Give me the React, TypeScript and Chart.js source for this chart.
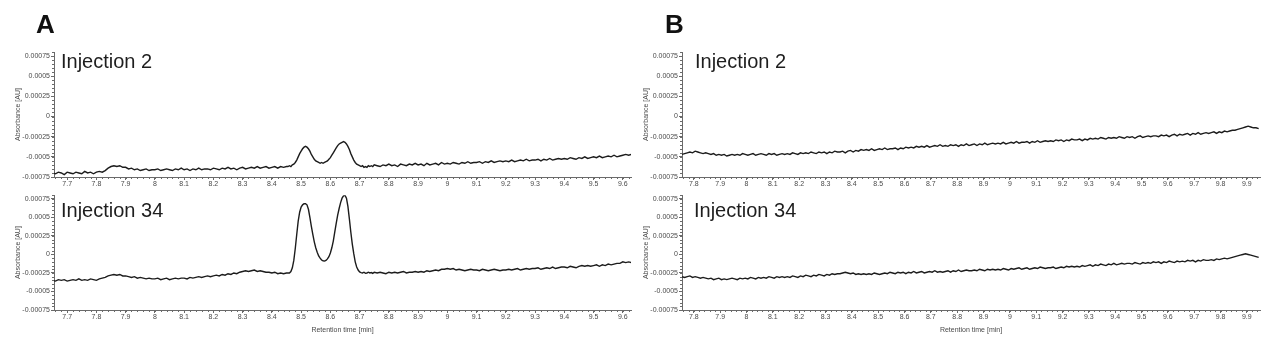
import { useEffect, useRef } from 'react';
import { Chart, registerables } from 'chart.js';

Chart.register(...registerables);

// Absorbance values are stored in units of 1e-5 AU
const UNIT = 1e-5;

// ---- Panel A: sampling (min) ----
const A_PRE_START = 7.65, A_PRE_STEP = 0.01;   // 7.65 .. 8.45
const A_PEAK_START = 8.455, A_PEAK_STEP = 0.005; // 8.455 .. 8.75
const A_POST_START = 8.76, A_POST_STEP = 0.01;  // 8.76 .. 9.63
// ---- Panel B: sampling (min) ----
const B_START = 7.755, B_STEP = 0.01;           // 7.755 .. 9.945

// Panel A, Injection 2
const a2Pre = [
  -70, -71, -69, -70, -72, -69, -70, -71, -69, -70, -71, -68, -70, -69, -71, -69, -68, -69,
  -67, -64, -62, -61, -62, -61, -63, -63, -65, -64, -66, -65, -67, -66, -65, -67, -66,
  -66, -65, -67, -66, -65, -66, -67, -65, -66, -64,
  -66, -65, -67, -65, -66, -64, -66, -65, -65, -66,
  -64, -65, -66, -64, -65, -63, -65, -64, -66, -64,
  -63, -65, -64, -63, -64, -62, -64, -63, -62, -64,
  -63, -62, -64, -62, -63, -62,
];
const a2Peak = [
  -62, -61, -62, -60, -59, -57, -54, -50, -46, -43,
  -40, -38, -37, -38, -40, -43, -47, -50, -53, -55,
  -56, -57, -58, -57, -58, -57, -56, -55, -53, -51,
  -48, -45, -42, -39, -36, -34, -33, -32, -31, -32,
  -34, -37, -41, -46, -50, -54, -57, -59, -60, -61,
  -62, -61, -63, -62, -63, -61, -62, -61, -62, -60,
];
const a2Post = [
  -61, -62, -60, -61, -59, -61, -60, -62, -59, -60, -61, -59, -60, -58,
  -60, -59, -61, -58, -60, -59, -58, -60, -57, -59,
  -58, -59, -57, -58, -59, -57, -58, -56, -58, -57,
  -57, -56, -58, -56, -57, -55, -57, -56, -55, -56,
  -55, -56, -54, -56, -55, -54, -55, -53, -55, -54,
  -54, -53, -55, -53, -54, -52, -54, -53, -52, -53,
  -52, -53, -51, -52, -53, -51, -52, -50, -52, -51,
  -50, -51, -49, -51, -50, -49, -50, -48, -50, -49,
  -48, -47, -48, -47,
];

// Panel A, Injection 34
const a34Pre = [
  -35, -36, -34, -35, -34, -36, -35, -34, -35, -33, -35, -34, -35, -33, -34, -35, -33, -32,
  -31, -29, -28, -27, -28, -27, -29, -29, -30, -31, -30, -32, -31, -32, -33, -32, -33,
  -33, -32, -34, -33, -32, -34, -33, -32, -33, -32,
  -32, -33, -31, -32, -31, -30, -31, -30, -29, -30,
  -29, -28, -29, -27, -28, -26, -27, -25, -26, -24,
  -23, -22, -23, -22, -21, -23, -22, -23, -24, -24,
  -25, -24, -26, -25, -26, -25,
];
const a34Peak = [
  -25, -25, -23, -18, -8, 8, 27, 45, 57, 64,
  67, 68.5, 68.6, 67, 61, 50, 38, 27, 17, 9,
  3, -2, -5, -7.5, -8.5, -9, -8, -6, -3, 2,
  9, 18, 30, 42, 53, 62, 70, 76, 79, 79.8,
  76, 65, 48, 30, 14, 1, -10, -17, -21, -23.5,
  -24.5, -25, -24, -25.5, -25, -24, -25, -24.5, -25.5, -24,
];
const a34Post = [
  -25, -24, -25, -26, -24, -25, -24, -25, -24, -23, -25, -24, -24, -23,
  -24, -23, -24, -22, -23, -22, -21, -22, -20, -20,
  -19, -20, -19, -21, -20, -21, -22, -21, -20, -21,
  -21, -22, -20, -21, -22, -21, -20, -21, -22, -21,
  -21, -20, -21, -20, -19, -21, -20, -19, -20, -19,
  -19, -18, -20, -19, -18, -19, -17, -19, -18, -17,
  -17, -18, -16, -17, -18, -16, -15, -16, -15, -16,
  -15, -14, -16, -14, -15, -13, -14, -13, -12, -12,
  -10, -11, -10, -11,
];

// Panel B, Injection 2
const b2Values = [
  -47, -46, -45, -44, -45, -43, -44, -45, -46, -45,
  -46, -47, -46, -48, -47, -48, -47, -49, -48, -47,
  -48, -47, -48, -46, -47, -48, -47, -46, -48, -47,
  -46, -47, -48, -46, -47, -46, -48, -47, -46, -47,
  -46, -47, -45, -46, -47, -45, -46, -45, -46, -44,
  -45, -46, -44, -45, -44, -46, -44, -45, -43, -44,
  -44, -43, -45, -43, -42, -44, -42, -43, -41, -42,
  -41, -42, -40, -42, -41, -40, -41, -39, -41, -40,
  -40, -39, -41, -39, -40, -38, -39, -38, -39, -37,
  -38, -37, -38, -36, -38, -37, -36, -37, -35, -37,
  -36, -37, -35, -36, -35, -37, -35, -36, -34, -36,
  -35, -34, -36, -34, -35, -33, -35, -34, -33, -34,
  -33, -34, -32, -34, -33, -32, -33, -31, -33, -32,
  -32, -31, -33, -31, -32, -30, -32, -31, -30, -31,
  -30, -31, -29, -30, -29, -31, -29, -30, -28, -29,
  -29, -28, -30, -28, -29, -27, -28, -27, -28, -26,
  -27, -28, -26, -27, -26, -27, -25, -26, -27, -25,
  -26, -25, -27, -25, -24, -26, -25, -24, -25, -24,
  -24, -25, -23, -24, -23, -25, -23, -22, -24, -22,
  -23, -22, -21, -23, -21, -22, -20, -22, -21, -20,
  -21, -20, -19, -21, -19, -20, -18, -19, -18, -17,
  -17, -16, -15, -14, -13, -12, -13, -14, -14, -15,
];

// Panel B, Injection 34
const b34Values = [
  -30, -31, -30, -29, -31, -30, -31, -32, -31, -32,
  -33, -32, -34, -33, -32, -34, -33, -34, -33, -32,
  -33, -34, -32, -33, -32, -33, -31, -32, -33, -31,
  -32, -31, -32, -30, -31, -32, -30, -31, -30, -31,
  -30, -31, -29, -30, -31, -29, -30, -28, -29, -30,
  -28, -29, -27, -28, -29, -27, -28, -26, -27, -26,
  -26, -25, -24, -25, -26, -25, -27, -26, -27, -26,
  -27, -26, -27, -25, -26, -27, -26, -25, -26, -24,
  -25, -26, -24, -25, -24, -26, -24, -25, -23, -25,
  -24, -23, -25, -24, -23, -24, -22, -24, -23, -24,
  -23, -22, -24, -22, -23, -21, -23, -22, -21, -22,
  -22, -21, -22, -20, -21, -22, -20, -21, -20, -21,
  -20, -21, -19, -20, -21, -19, -20, -19, -18, -20,
  -19, -18, -20, -19, -18, -19, -17, -18, -19, -18,
  -18, -17, -19, -18, -17, -18, -16, -17, -16, -17,
  -16, -17, -15, -16, -15, -14, -16, -14, -15, -13,
  -14, -15, -13, -14, -12, -14, -13, -12, -13, -12,
  -12, -13, -11, -12, -13, -11, -12, -11, -12, -10,
  -11, -10, -12, -10, -11, -9, -10, -11, -9, -10,
  -9, -10, -8, -9, -8, -10, -8, -9, -7, -8,
  -8, -7, -8, -6, -7, -6, -5, -6, -5, -4,
  -3, -2, -1, 0, 1, 0, -1, -2, -3, -4,
];

// Tick labels
const xTicksA = [7.7, 7.8, 7.9, 8, 8.1, 8.2, 8.3, 8.4, 8.5, 8.6, 8.7, 8.8, 8.9, 9, 9.1, 9.2, 9.3, 9.4, 9.5, 9.6];
const xTicksB = [7.8, 7.9, 8, 8.1, 8.2, 8.3, 8.4, 8.5, 8.6, 8.7, 8.8, 8.9, 9, 9.1, 9.2, 9.3, 9.4, 9.5, 9.6, 9.7, 9.8, 9.9];
const yTicks = [-0.00075, -0.0005, -0.00025, 0, 0.00025, 0.0005, 0.00075];
const yTickLabels = ['-0.00075', '-0.0005', '-0.00025', '0', '0.00025', '0.0005', '0.00075'];

const panelLetters = ['A', 'B'];
const injectionLabels = ['Injection 2', 'Injection 34'];
const yTitle = 'Absorbance [AU]';
const xTitle = 'Retention time [min]';

const sampleTimes = (start: number, step: number, n: number) =>
  Array.from({ length: n }, (_, i) => +(start + i * step).toFixed(4));

const timesA = [
  ...sampleTimes(A_PRE_START, A_PRE_STEP, a2Pre.length),
  ...sampleTimes(A_PEAK_START, A_PEAK_STEP, a2Peak.length),
  ...sampleTimes(A_POST_START, A_POST_STEP, a2Post.length),
];
const timesB = sampleTimes(B_START, B_STEP, b2Values.length);

const FONT = "'Liberation Sans', Arial, sans-serif";
const AXIS_COLOR = '#6a6a6a';
const LABEL_COLOR = '#4a4a4a';

const minorTicksPlugin = {
  id: 'minorTicks',
  afterDraw(chart: any) {
    const { ctx, chartArea } = chart;
    const x = chart.scales.x;
    const y = chart.scales.y;
    ctx.save();
    ctx.strokeStyle = AXIS_COLOR;
    ctx.lineWidth = 1;
    ctx.beginPath();
    const xs = 0.02;
    for (let i = Math.ceil(x.min / xs); i <= Math.floor(x.max / xs); i++) {
      const px = Math.round(x.getPixelForValue(i * xs)) + 0.5;
      ctx.moveTo(px, chartArea.bottom);
      ctx.lineTo(px, chartArea.bottom + 2);
    }
    const ys = 0.00005;
    for (let i = Math.ceil(y.min / ys); i <= Math.floor(y.max / ys); i++) {
      const py = Math.round(y.getPixelForValue(i * ys)) + 0.5;
      ctx.moveTo(chartArea.left, py);
      ctx.lineTo(chartArea.left - 2, py);
    }
    ctx.stroke();
    ctx.restore();
  },
};

type PanelCfg = {
  left: number; top: number; width: number; height: number;
  xMin: number; xMax: number; xTicks: number[];
  times: number[]; values: number[];
  padTop: number; padRight: number; xAxisH: number; showXTitle: boolean;
};

function Panel({ cfg }: { cfg: PanelCfg }) {
  const ref = useRef<HTMLCanvasElement>(null);
  useEffect(() => {
    const n = Math.min(cfg.times.length, cfg.values.length);
    const pts = [];
    for (let i = 0; i < n; i++) pts.push({ x: cfg.times[i], y: cfg.values[i] * UNIT });
    const chart = new Chart(ref.current as HTMLCanvasElement, {
      type: 'line',
      data: {
        datasets: [{
          data: pts,
          borderColor: '#1c1c1c',
          borderWidth: 1.4,
          pointRadius: 0,
          tension: 0,
        }],
      },
      options: {
        animation: false,
        responsive: false,
        devicePixelRatio: 1,
        events: [],
        layout: { padding: { left: 0, right: cfg.padRight, top: cfg.padTop, bottom: 0 } },
        plugins: { legend: { display: false }, tooltip: { enabled: false } },
        scales: {
          x: {
            type: 'linear',
            min: cfg.xMin,
            max: cfg.xMax,
            afterBuildTicks: (s: any) => { s.ticks = cfg.xTicks.map((v) => ({ value: v })); },
            afterFit: (s: any) => { s.height = cfg.xAxisH; },
            ticks: {
              autoSkip: false,
              maxRotation: 0,
              padding: 0,
              color: LABEL_COLOR,
              font: { family: FONT, size: 7 },
              callback: (v: any) => String(+Number(v).toFixed(2)),
            },
            grid: { drawOnChartArea: false, drawTicks: true, tickLength: 3, color: AXIS_COLOR },
            border: { display: true, color: AXIS_COLOR, width: 1 },
            title: {
              display: cfg.showXTitle,
              text: xTitle,
              color: LABEL_COLOR,
              font: { family: FONT, size: 7 },
              padding: { top: 0, bottom: 16 },
            },
          },
          y: {
            type: 'linear',
            min: -0.00075,
            max: 0.0008,
            afterBuildTicks: (s: any) => { s.ticks = yTicks.map((v) => ({ value: v })); },
            afterFit: (s: any) => { s.width = 54; },
            ticks: {
              padding: 1,
              color: LABEL_COLOR,
              font: { family: FONT, size: 7 },
              callback: (v: any) => {
                const k = yTicks.findIndex((t) => Math.abs(t - Number(v)) < 1e-9);
                return k >= 0 ? yTickLabels[k] : '';
              },
            },
            grid: { drawOnChartArea: false, drawTicks: true, tickLength: 3, color: AXIS_COLOR },
            border: { display: true, color: AXIS_COLOR, width: 1 },
            title: {
              display: true,
              text: yTitle,
              color: LABEL_COLOR,
              font: { family: FONT, size: 7 },
              padding: { top: 14, bottom: 0 },
            },
          },
        },
      } as any,
      plugins: [minorTicksPlugin],
    });
    return () => chart.destroy();
  }, [cfg]);
  return (
    <canvas
      ref={ref}
      width={cfg.width}
      height={cfg.height}
      style={{ position: 'absolute', left: cfg.left, top: cfg.top, width: cfg.width, height: cfg.height }}
    />
  );
}

const panels: PanelCfg[] = [
  { left: 0, top: 0, width: 640, height: 190, xMin: 7.655, xMax: 9.628, xTicks: xTicksA,
    times: timesA, values: [...a2Pre, ...a2Peak, ...a2Post], padTop: 52, padRight: 9, xAxisH: 13, showXTitle: false },
  { left: 0, top: 190, width: 640, height: 160, xMin: 7.655, xMax: 9.628, xTicks: xTicksA,
    times: timesA, values: [...a34Pre, ...a34Peak, ...a34Post], padTop: 3, padRight: 9, xAxisH: 40, showXTitle: true },
  { left: 628, top: 0, width: 640, height: 190, xMin: 7.755, xMax: 9.95, xTicks: xTicksB,
    times: timesB, values: b2Values, padTop: 52, padRight: 8, xAxisH: 13, showXTitle: false },
  { left: 628, top: 190, width: 640, height: 160, xMin: 7.755, xMax: 9.95, xTicks: xTicksB,
    times: timesB, values: b34Values, padTop: 3, padRight: 8, xAxisH: 40, showXTitle: true },
];

const textStyle = (left: number, top: number, size: number, bold: boolean): any => ({
  position: 'absolute', left, top, fontFamily: FONT, fontSize: size, lineHeight: `${size}px`,
  fontWeight: bold ? 700 : 400, color: bold ? '#111' : '#1e1e1e', whiteSpace: 'nowrap',
});

export default function App() {
  return (
    <div style={{ position: 'absolute', left: 0, top: 0, width: 1280, height: 350, background: '#fff', overflow: 'hidden' }}>
      {panels.map((p, i) => <Panel key={i} cfg={p} />)}
      <div style={textStyle(36, 11, 26, true)}>{panelLetters[0]}</div>
      <div style={textStyle(665, 11, 26, true)}>{panelLetters[1]}</div>
      <div style={textStyle(61, 51, 20, false)}>{injectionLabels[0]}</div>
      <div style={textStyle(61, 200, 20, false)}>{injectionLabels[1]}</div>
      <div style={textStyle(695, 51, 20, false)}>{injectionLabels[0]}</div>
      <div style={textStyle(694, 200, 20, false)}>{injectionLabels[1]}</div>
    </div>
  );
}
